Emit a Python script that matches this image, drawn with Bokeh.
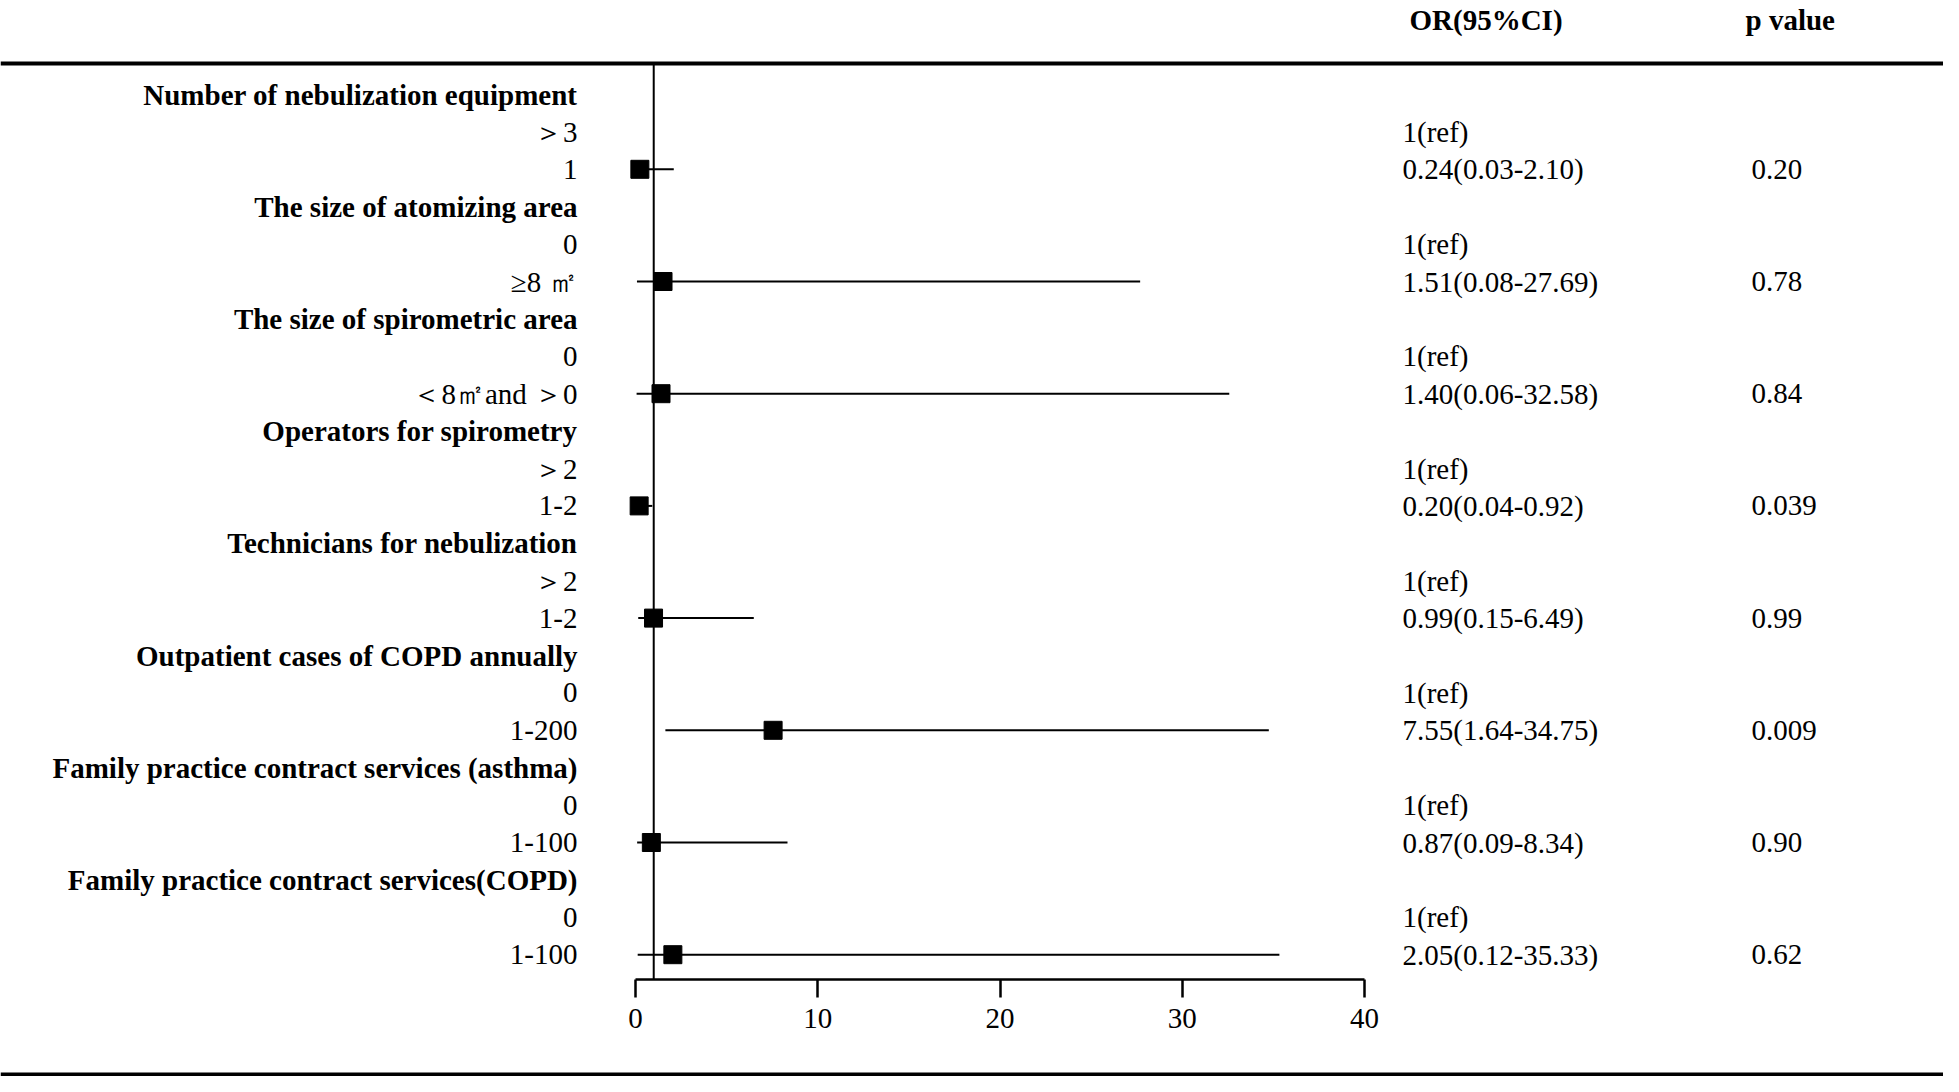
from bokeh.plotting import figure
from bokeh.models import Range1d, LinearAxis, FixedTicker, Span
from bokeh.core.properties import value
from bokeh.embed import file_html
from bokeh.resources import INLINE

# ---------------- data ----------------
groups = [
    "Number of nebulization equipment",
    "The size of atomizing area",
    "The size of spirometric area",
    "Operators for spirometry",
    "Technicians for nebulization",
    "Outpatient cases of COPD annually",
    "Family practice contract services (asthma)",
    "Family practice contract services(COPD)",
]
ref_levels = ["＞3", "0", "0", "＞2", "＞2", "0", "0", "0"]
cmp_levels = ["1", "≥8 ㎡", "＜8㎡and ＞0", "1-2", "1-2", "1-200", "1-100", "1-100"]
or_vals = [0.24, 1.51, 1.40, 0.20, 0.99, 7.55, 0.87, 2.05]
ci_low = [0.03, 0.08, 0.06, 0.04, 0.15, 1.64, 0.09, 0.12]
ci_high = [2.10, 27.69, 32.58, 0.92, 6.49, 34.75, 8.34, 35.33]
p_values = ["0.20", "0.78", "0.84", "0.039", "0.99", "0.009", "0.90", "0.62"]
ref_text = "1(ref)"
ref_or = 1
x_ticks = [0, 10, 20, 30, 40]
header_or = "OR(95%CI)"
header_p = "p value"

# ---------------- layout helpers ----------------
W, H = 1943, 1076
PX = 18.225      # px per OR unit
X0 = 635         # px position of OR = 0
ROW = 37.4       # px per row
Y0 = 94          # px position of first row

def xd(px):
    return (px - X0) / PX

def yd(px):
    return (px - Y0) / ROW

FONT = value("Liberation Serif")
FS = "29px"

p = figure(width=W, height=H,
           x_range=Range1d(xd(0), xd(W)),
           y_range=Range1d(yd(H), yd(0)),
           x_axis_type=None, y_axis_type=None,
           output_backend="svg", toolbar_location=None,
           min_border=0, outline_line_color=None)
p.background_fill_color = "white"
p.border_fill_color = "white"

# rows
group_rows = [3 * i for i in range(len(groups))]
ref_rows = [3 * i + 1 for i in range(len(groups))]
cmp_rows = [3 * i + 2 for i in range(len(groups))]

axis_y = yd(979)
top_y = yd(63)

# rules
p.add_layout(Span(location=top_y, dimension="width", line_color="black", line_width=4))
p.add_layout(Span(location=yd(1074), dimension="width", line_color="black", line_width=4))

# reference line at OR = 1
p.segment(x0=[ref_or], y0=[top_y], x1=[ref_or], y1=[axis_y], line_color="black", line_width=2)

# CIs and points
p.segment(x0=ci_low, y0=cmp_rows, x1=ci_high, y1=cmp_rows, line_color="black", line_width=2)
p.scatter(x=or_vals, y=cmp_rows, marker="square", size=18, fill_color="black", line_color="black")

# x axis
xaxis = LinearAxis(fixed_location=axis_y, bounds=(0, 40), ticker=FixedTicker(ticks=x_ticks))
xaxis.major_tick_in = 0
xaxis.major_tick_out = 18
xaxis.minor_tick_in = 0
xaxis.minor_tick_out = 0
xaxis.axis_line_width = 2.5
xaxis.major_tick_line_width = 2.5
xaxis.axis_line_color = "black"
xaxis.major_tick_line_color = "black"
xaxis.major_label_text_font = "Liberation Serif"
xaxis.major_label_text_font_size = FS
xaxis.major_label_text_color = "black"
xaxis.major_label_standoff = 11
p.add_layout(xaxis, "below")

# left labels
lab_x = xd(577)
p.text(x=[lab_x] * len(groups), y=group_rows, text=groups, text_align="right",
       text_baseline="middle", text_font=FONT, text_font_size=FS,
       text_font_style="bold", text_color="black")
p.text(x=[lab_x] * len(ref_levels), y=ref_rows, text=ref_levels, text_align="right",
       text_baseline="middle", text_font=FONT, text_font_size=FS, text_color="black")
p.text(x=[lab_x] * len(cmp_levels), y=cmp_rows, text=cmp_levels, text_align="right",
       text_baseline="middle", text_font=FONT, text_font_size=FS, text_color="black")

# right columns
or_x = xd(1402)
pv_x = xd(1751)
or_texts = [f"{o:.2f}({l:.2f}-{h:.2f})" for o, l, h in zip(or_vals, ci_low, ci_high)]
p.text(x=[or_x] * len(ref_rows), y=ref_rows, text=[ref_text] * len(ref_rows), text_align="left",
       text_baseline="middle", text_font=FONT, text_font_size=FS, text_color="black")
p.text(x=[or_x] * len(cmp_rows), y=cmp_rows, text=or_texts, text_align="left",
       text_baseline="middle", text_font=FONT, text_font_size=FS, text_color="black")
p.text(x=[pv_x] * len(cmp_rows), y=cmp_rows, text=p_values, text_align="left",
       text_baseline="middle", text_font=FONT, text_font_size=FS, text_color="black")

# headers
p.text(x=[xd(1409), xd(1745)], y=[yd(19), yd(19)], text=[header_or, header_p],
       text_align="left", text_baseline="middle", text_font=FONT, text_font_size=FS,
       text_font_style="bold", text_color="black")

open("out.html", "w").write(file_html(p, INLINE))
